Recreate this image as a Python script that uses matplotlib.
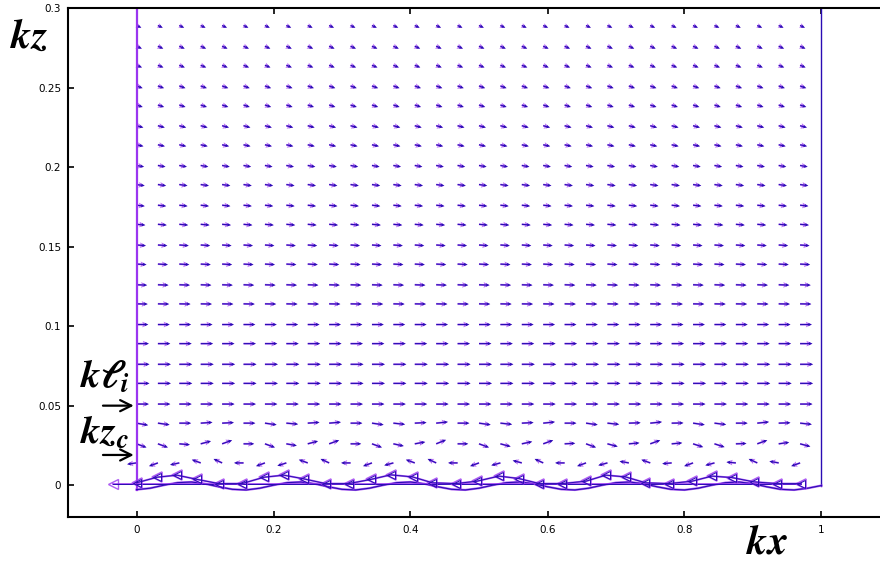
import numpy as np
import matplotlib.pyplot as plt

plt.rcParams['mathtext.fontset'] = 'stix'

# quiver grid: 32 columns across the channel, 23 rows above the surface
col_x = np.arange(32) / 32
row_y = [0.014, 0.026, 0.039, 0.051, 0.064, 0.076, 0.089, 0.101, 0.114, 0.126,
         0.139, 0.151, 0.164, 0.176, 0.189, 0.201, 0.214, 0.226, 0.239, 0.251,
         0.264, 0.276, 0.289]

# arrow magnitude per row (bottom to top)
row_speed = [0.80, 0.90, 1.00, 1.05, 1.10, 1.10, 1.05, 1.00, 0.95, 0.90,
             0.85, 0.80, 0.75, 0.70, 0.70, 0.65, 0.60, 0.60, 0.55, 0.55,
             0.50, 0.50, 0.45]

# direction (deg) of the upper rows, same across the row
row_angle = [None, None, None, 0, 0, 0, 0, 0, -1, -2,
             -3, -4, -5, -6, -8, -10, -12, -15, -18, -20,
             -22, -25, -25]

# near-surface rows vary along x
angle_row0 = [188, 200, 192, 160, 155, 180, 200, 198, 160, 155, 180, 200, 195, 160, 155, 180,
              200, 195, 165, 155, 180, 200, 195, 170, 160, 185, 200, 195, 175, 155, 170, 200]
angle_row1 = [-20, -20, -5, 15, 20, 0, -20, -10, 15, 20, 0, -20, -12, 10, 22, 0,
              -20, -15, 12, 20, 3, -20, -15, 5, 20, 5, -18, -18, 2, 20, 8, -15]
angle_row2 = [-10, -8, 0, 4, 3, 0, -8, -5, 4, 5, 0, -8, -6, 3, 6, 0,
              -8, -6, 3, 6, 0, -8, -6, 2, 6, 1, -8, -7, 0, 6, 2, -6]

# surface markers (particle positions) and free surface
mark_x = [0.000, 0.030, 0.059, 0.089, 0.120, 0.154, 0.186, 0.215, 0.244, 0.276, 0.310,
          0.342, 0.371, 0.403, 0.432, 0.466, 0.497, 0.529, 0.558, 0.588, 0.621, 0.656,
          0.685, 0.714, 0.743, 0.777, 0.811, 0.840, 0.869, 0.901, 0.935, 0.970]
mark_y = [0.0015, 0.0050, 0.0063, 0.0036, 0.0010, 0.0010, 0.0050, 0.0063, 0.0040, 0.0010, 0.0010,
          0.0036, 0.0065, 0.0052, 0.0015, 0.0010, 0.0025, 0.0057, 0.0042, 0.0010, 0.0010, 0.0025,
          0.0063, 0.0052, 0.0015, 0.0010, 0.0025, 0.0057, 0.0048, 0.0021, 0.0010, 0.0010]

surf_x = np.round(np.arange(51) * 0.02, 2)
surf_y = [-0.0028, -0.0019, 0.0000, 0.0016, 0.0020, 0.0009, -0.0010, -0.0026, -0.0030,
          -0.0019, 0.0000, 0.0016, 0.0020, 0.0009, -0.0010, -0.0026, -0.0030, -0.0019,
          0.0000, 0.0016, 0.0020, 0.0009, -0.0010, -0.0026, -0.0030, -0.0019, 0.0000,
          0.0016, 0.0020, 0.0009, -0.0010, -0.0026, -0.0030, -0.0019, 0.0000, 0.0016,
          0.0020, 0.0009, -0.0010, -0.0026, -0.0030, -0.0019, 0.0000, 0.0016, 0.0020,
          0.0009, -0.0010, -0.0026, -0.0030, -0.0019, -0.0002]

blue = '#2a0cb4'
purple = '#9a36f0'

# build the vector field
X, Y, U, V = [], [], [], []
for j, y in enumerate(row_y):
    for i, x in enumerate(col_x):
        if j == 0:
            a = angle_row0[i]
        elif j == 1:
            a = angle_row1[i]
        elif j == 2:
            a = angle_row2[i]
        else:
            a = row_angle[j]
        X.append(x)
        Y.append(y)
        U.append(row_speed[j] * np.cos(np.radians(a)))
        V.append(row_speed[j] * np.sin(np.radians(a)))

fig = plt.figure(figsize=(8.8, 5.63), dpi=100)
ax = fig.add_axes([68 / 880, 46 / 563, 822 / 880, 509 / 563])

qkw = dict(angles='uv', scale_units='dots', scale=0.085, pivot='tail',
           headwidth=3, headlength=3.2, headaxislength=2.8)
ax.quiver(X, Y, U, V, color=purple, width=0.0023, alpha=0.7, **qkw)
ax.quiver(X, Y, U, V, color=blue, width=0.0014, **qkw)

# channel walls
ax.plot([0, 0], [-0.003, 0.3], color=purple, lw=1.6)
ax.plot([1, 1], [-0.0002, 0.3], color=blue, lw=1.0)

# free surface and mean level
ax.plot(surf_x, surf_y, color=purple, lw=1.6, alpha=0.8)
ax.plot(surf_x, surf_y, color=blue, lw=0.8)
ax.plot([-0.035, 0.97], [0.001, 0.001], color=purple, lw=1.4, alpha=0.8,
        marker='<', markevery=[0], ms=7, mfc='none', mec=purple)
ax.plot([-0.035, 0.97], [0.001, 0.001], color=blue, lw=0.7)
ax.plot(mark_x, mark_y, color=purple, lw=1.4, alpha=0.8,
        marker='<', ms=7, mfc='none', mec=purple, mew=1.2)
ax.plot(mark_x, mark_y, color=blue, lw=0.7,
        marker='<', ms=6, mfc='none', mec=blue, mew=0.7)

ax.set_xlim(-0.1, 1.1)
ax.set_ylim(-0.02, 0.3)
ax.set_xticks([0, 0.2, 0.4, 0.6, 0.8, 1])
ax.set_xticklabels(['0', '0.2', '0.4', '0.6', '0.8', '1'])
ax.set_yticks([0, 0.05, 0.1, 0.15, 0.2, 0.25, 0.3])
ax.set_yticklabels(['0', '0.05', '0.1', '0.15', '0.2', '0.25', '0.3'])
ax.tick_params(direction='in', length=4, width=1.2, labelsize=7.5, top=True)
ax.tick_params(axis='x', pad=6)
ax.tick_params(axis='y', pad=5)
for s in ax.spines.values():
    s.set_linewidth(1.5)

fig.text(0.033, 0.934, r'$\mathbfit{kz}$', ha='center', va='center', fontsize=29)
fig.text(0.872, 0.036, r'$\mathbfit{kx}$', ha='center', va='center', fontsize=29)

ax.text(-0.047, 0.069, r'$\mathbfit{k\ell_i}$', ha='center', va='center', fontsize=28,
        clip_on=False)
ax.text(-0.047, 0.034, r'$\mathbfit{kz_c}$', ha='center', va='center', fontsize=28,
        clip_on=False)
akw = dict(arrowstyle='->', color='black', lw=1.6, mutation_scale=20)
ax.annotate('', xy=(0, 0.050), xytext=(-0.053, 0.050), arrowprops=akw, annotation_clip=False)
ax.annotate('', xy=(0, 0.019), xytext=(-0.053, 0.019), arrowprops=akw, annotation_clip=False)

fig.savefig('out.png', dpi=100)
